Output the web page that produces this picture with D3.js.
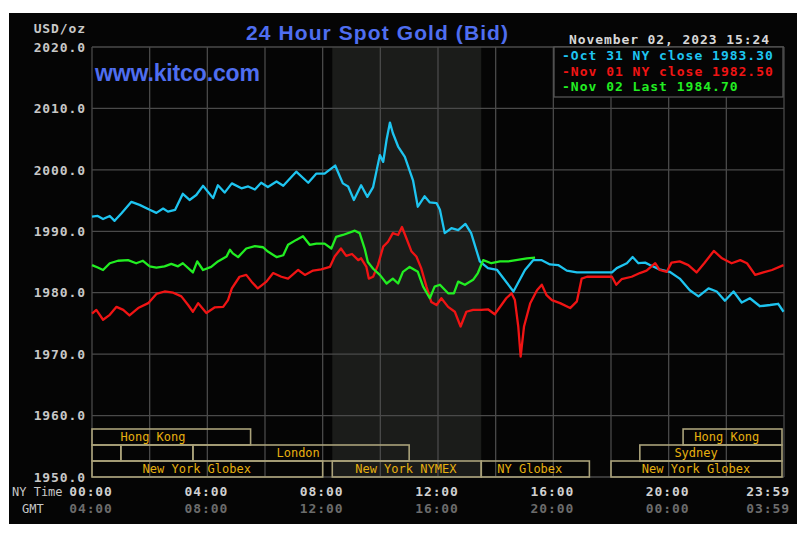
<!DOCTYPE html>
<html><head><meta charset="utf-8">
<script src="https://cdn.jsdelivr.net/npm/d3@7/dist/d3.min.js"></script>
<style>
html,body{margin:0;padding:0;background:#fff;}
svg{display:block;}
</style></head>
<body>
<svg id="c" width="807" height="535"></svg>
<script>
// ---- DATA (minutes since NY midnight, USD/oz) ----
const oct31 = [[0,1992.4],[12,1992.5],[23,1992.0],[37,1992.5],[47,1991.7],[61,1992.9],[82,1994.8],[99,1994.3],[120,1993.5],[134,1993.0],[148,1993.7],[158,1993.2],[173,1993.5],[189,1996.1],[203,1995.1],[217,1995.9],[231,1997.4],[252,1995.4],[262,1997.5],[276,1996.3],[291,1997.8],[311,1997.0],[325,1997.3],[339,1996.8],[352,1997.9],[366,1997.2],[384,1998.1],[398,1997.4],[425,1999.7],[450,1997.9],[467,1999.4],[484,1999.4],[506,2000.7],[522,1997.8],[533,1997.3],[545,1995.1],[560,1997.5],[573,1995.6],[585,1997.2],[599,2002.4],[606,2001.3],[613,2004.9],[620,2007.7],[626,2006.0],[637,2003.8],[651,2002.1],[668,1998.3],[678,1994.0],[692,1995.7],[703,1994.7],[717,1994.6],[724,1993.5],[734,1989.7],[748,1990.5],[762,1990.2],[777,1991.2],[789,1989.7],[807,1985.1],[824,1984.0],[843,1983.7],[877,1980.2],[901,1983.7],[918,1985.3],[936,1985.3],[953,1984.6],[970,1984.5],[988,1983.6],[1009,1983.3],[1082,1983.3],[1092,1984.0],[1113,1984.8],[1125,1985.8],[1137,1984.8],[1151,1984.9],[1161,1984.5],[1181,1983.8],[1202,1983.4],[1223,1982.3],[1244,1980.4],[1262,1979.4],[1283,1980.7],[1300,1980.2],[1317,1978.7],[1335,1980.2],[1352,1978.4],[1369,1979.1],[1390,1977.8],[1411,1978.0],[1428,1978.2],[1439,1976.9]];
const nov01 = [[0,1976.6],[9,1977.2],[23,1975.6],[37,1976.4],[51,1977.7],[65,1977.2],[78,1976.3],[96,1977.5],[117,1978.3],[134,1979.8],[151,1980.2],[169,1980.0],[186,1979.4],[200,1978.0],[210,1976.9],[221,1978.3],[238,1976.7],[255,1977.6],[273,1977.7],[283,1978.8],[291,1980.7],[307,1982.6],[321,1982.9],[332,1981.8],[345,1980.7],[363,1981.8],[377,1983.2],[394,1982.6],[408,1982.3],[429,1983.7],[443,1982.9],[460,1983.6],[477,1983.8],[495,1984.2],[505,1985.9],[518,1987.2],[529,1986.0],[541,1986.3],[554,1985.3],[560,1985.6],[571,1984.2],[576,1982.3],[585,1982.6],[595,1984.5],[606,1987.5],[616,1988.3],[626,1989.7],[637,1989.4],[645,1990.7],[654,1988.9],[665,1986.7],[675,1985.9],[685,1984.0],[696,1981.0],[706,1978.5],[717,1978.0],[727,1979.1],[741,1977.7],[755,1976.9],[767,1974.5],[779,1976.9],[793,1977.2],[810,1977.2],[824,1977.3],[838,1976.5],[852,1978.0],[862,1979.1],[873,1979.9],[880,1978.8],[887,1974.5],[892,1969.6],[899,1974.5],[912,1978.3],[926,1980.4],[936,1981.3],[946,1979.6],[957,1978.8],[974,1978.3],[995,1977.5],[1009,1978.6],[1019,1982.3],[1030,1982.6],[1082,1982.6],[1091,1981.3],[1102,1982.2],[1123,1982.6],[1140,1983.2],[1154,1983.6],[1172,1984.8],[1181,1983.7],[1196,1983.4],[1206,1984.9],[1223,1985.1],[1241,1984.5],[1258,1983.3],[1274,1984.8],[1294,1986.8],[1311,1985.6],[1331,1984.8],[1349,1985.3],[1363,1984.8],[1380,1982.9],[1397,1983.3],[1415,1983.7],[1439,1984.5]];
const nov02 = [[0,1984.5],[12,1984.1],[23,1983.7],[37,1984.8],[54,1985.2],[75,1985.3],[92,1984.8],[106,1985.2],[120,1984.3],[134,1984.1],[151,1984.3],[165,1984.7],[179,1984.3],[189,1984.8],[210,1983.3],[219,1985.1],[231,1983.7],[248,1984.2],[262,1985.1],[280,1985.9],[287,1987.0],[293,1986.4],[304,1985.8],[321,1987.2],[339,1987.6],[356,1987.4],[366,1986.7],[384,1985.8],[398,1986.1],[408,1987.8],[425,1988.6],[439,1989.2],[453,1987.8],[467,1988.0],[484,1988.0],[498,1987.2],[508,1989.1],[522,1989.4],[547,1990.1],[557,1989.7],[568,1987.0],[574,1985.0],[585,1983.9],[599,1982.9],[613,1981.5],[626,1982.3],[637,1981.5],[647,1983.4],[661,1984.2],[678,1983.4],[689,1981.0],[703,1979.1],[713,1981.0],[724,1981.3],[741,1979.9],[753,1979.9],[762,1981.8],[776,1981.3],[793,1982.1],[803,1983.2],[814,1985.3],[831,1984.8],[849,1985.1],[866,1985.1],[905,1985.6],[922,1985.7]];

const seriesNames = ["Oct 31 NY close 1983.30","Nov 01 NY close 1982.50","Nov 02 Last 1984.70"];
const seriesColors = ["#1ec4f0","#f01414","#22ee22"];

const yTicks = [1950,1960,1970,1980,1990,2000,2010,2020];
const xTickMinutes = [0,240,480,720,960,1200,1440];
const nyTimeLabels = ["00:00","04:00","08:00","12:00","16:00","20:00","23:59"];
const gmtLabels = ["04:00","08:00","12:00","16:00","20:00","00:00","03:59"];
const gridMinutes = [0,120,240,360,480,600,720,840,960,1080,1200,1320,1440];

const nymexShade = [500,810];
// market sessions: [row, start, end, label, labelMinute]
const sessions = [
  [0,0,330,"Hong Kong",127],
  [0,1230,1440,"Hong Kong",1321],
  [1,0,60,"",0],
  [1,60,210,"",0],
  [1,210,660,"London",429],
  [1,1140,1440,"Sydney",1257],
  [2,0,480,"New York Globex",218],
  [2,500,810,"New York NYMEX",653],
  [2,810,1035,"NY Globex",911],
  [2,1080,1440,"New York Globex",1257]
];
const titleText = "24 Hour Spot Gold (Bid)";
const siteText = "www.kitco.com";
const dateText = "November 02, 2023 15:24";
const unitText = "USD/oz";

// ---- DRAW ----
const svg = d3.select("#c");
const L=92, R=784, T=47, B=477;
const x = d3.scaleLinear().domain([0,1440]).range([L,R]);
const y = d3.scaleLinear().domain([1950,2020]).range([B,T]);
const mono = "'DejaVu Sans Mono', 'Liberation Mono', monospace";

svg.append("rect").attr("x",9).attr("y",13).attr("width",788).attr("height",511).attr("fill","#050505");

// shade
svg.append("rect").attr("x",x(nymexShade[0])).attr("y",T).attr("width",x(nymexShade[1])-x(nymexShade[0])).attr("height",B-T).attr("fill","#1b1c1a");

// grid
const g = svg.append("g").attr("stroke","#4a4a4a").attr("stroke-width",1.3);
yTicks.forEach(v=>g.append("line").attr("x1",L).attr("x2",R).attr("y1",y(v)).attr("y2",y(v)));
gridMinutes.forEach(m=>g.append("line").attr("x1",x(m)).attr("x2",x(m)).attr("y1",T).attr("y2",B));

// y axis labels
const yAxis = d3.axisLeft(y).tickValues(yTicks).tickFormat(d3.format(".1f")).tickSize(0).tickPadding(6);
const ya = svg.append("g").attr("transform",`translate(${L},0)`).call(yAxis);
ya.select(".domain").remove();
ya.selectAll("text").attr("fill","#c8c8c8").style("font-family",mono).style("font-size","13px").style("font-weight","bold").style("letter-spacing","0.9px");
svg.append("text").attr("x",86).attr("y",33).attr("text-anchor","end").attr("fill","#c8c8c8")
  .style("font-family",mono).style("font-size","13px").style("font-weight","bold").style("letter-spacing","0.9px").text(unitText);

// x labels
const xl = svg.append("g").style("font-family",mono).style("font-size","13px").style("font-weight","bold").style("letter-spacing","0.9px");
xTickMinutes.forEach((m,i)=>{
  const last = i===xTickMinutes.length-1;
  const px = last ? x(m)+6 : x(m)-1;
  xl.append("text").attr("x",px).attr("y",496).attr("text-anchor",last?"end":"middle").attr("fill","#d0d0d0").text(nyTimeLabels[i]);
  xl.append("text").attr("x",px).attr("y",513).attr("text-anchor",last?"end":"middle").attr("fill","#6c6c6c").text(gmtLabels[i]);
});
svg.append("text").attr("x",12).attr("y",496).attr("fill","#c8c8c8").style("font-family",mono).style("font-size","12px").text("NY Time");
svg.append("text").attr("x",22).attr("y",513).attr("fill","#c8c8c8").style("font-family",mono).style("font-size","12px").text("GMT");

// sessions
const rowTop = [429,445,461], rowH = 16;
const sg = svg.append("g");
sessions.forEach(s=>{
  const x0 = x(s[1]), x1 = Math.min(x(s[2]), R-2);
  sg.append("rect").attr("x",x0).attr("y",rowTop[s[0]]).attr("width",x1-x0).attr("height",rowH)
    .attr("fill","none").attr("stroke","#aaa27a").attr("stroke-width",1.6);
  if (s[3]) sg.append("text").attr("x",x(s[4])).attr("y",rowTop[s[0]]+12).attr("text-anchor","middle")
    .attr("fill","#e6b010").style("font-family",mono).style("font-size","12px").text(s[3]);
});

// lines
const line = d3.line().x(d=>x(d[0])).y(d=>y(d[1]));
[oct31,nov01,nov02].forEach((d,i)=>{
  svg.append("path").datum(d).attr("d",line).attr("fill","none").attr("stroke",seriesColors[i]).attr("stroke-width",2.3).attr("stroke-linejoin","round");
});

// legend
svg.append("rect").attr("x",554).attr("y",T).attr("width",229).attr("height",50).attr("fill","#050505").attr("stroke","#555").attr("stroke-width",1.3);
seriesNames.forEach((n,i)=>{
  svg.append("text").attr("x",562).attr("y",60+i*15.5).attr("fill",seriesColors[i])
    .style("font-family",mono).style("font-size","13px").style("font-weight","bold").style("letter-spacing","1.0px").text("-"+n);
});

// titles
svg.append("text").attr("x",246).attr("y",40).attr("fill","#4f6ef0").attr("textLength",262).attr("lengthAdjust","spacing")
  .style("font-family","'Liberation Sans', Arial, sans-serif").style("font-size","21px").style("font-weight","bold").text(titleText);
svg.append("text").attr("x",95).attr("y",81).attr("fill","#4f6ef0").attr("textLength",165).attr("lengthAdjust","spacing")
  .style("font-family","'Liberation Sans', Arial, sans-serif").style("font-size","23px").style("font-weight","bold").text(siteText);
svg.append("text").attr("x",569).attr("y",44).attr("fill","#d8d8d8").attr("textLength",200).attr("lengthAdjust","spacing")
  .style("font-family",mono).style("font-size","13px").style("font-weight","bold").text(dateText);
</script>
</body></html>
